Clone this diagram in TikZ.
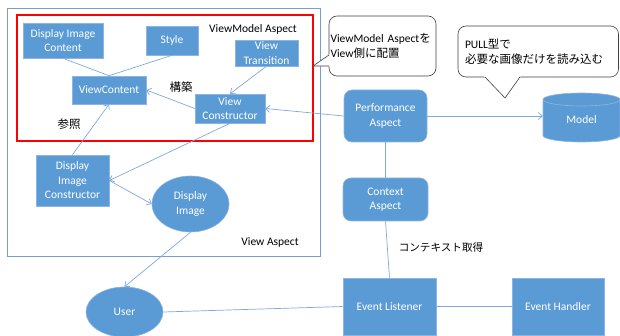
\documentclass[tikz,border=0pt]{standalone}
\usepackage{fontspec}
\setmainfont{Carlito}
\newfontfamily\jp{Noto Sans CJK JP}
\usetikzlibrary{arrows.meta,shapes.geometric}

\definecolor{boxblue}{RGB}{91,155,213}
\definecolor{boxedge}{RGB}{141,180,226}
\definecolor{wireblue}{RGB}{125,170,222}
\definecolor{frameblue}{RGB}{120,158,205}

\begin{document}
\begin{tikzpicture}[x=1pt,y=-1pt,
  font=\fontsize{11.5}{14.5}\selectfont,
  blk/.style={rectangle, fill=boxblue, draw=boxedge, line width=0.6pt,
    text=white, align=center, inner sep=1pt},
  rbox/.style={blk, rounded corners=8pt},
  oval/.style={ellipse, fill=boxblue, draw=boxedge, line width=0.6pt,
    text=white, align=center, inner sep=0pt},
  wire/.style={draw=wireblue, line width=0.7pt},
  arr/.style={wire, -{Straight Barb[length=4pt,width=7pt]}},
  lbl/.style={text=black, inner sep=0pt},
  jplbl/.style={lbl, font=\jp\fontsize{11.5}{14.5}\selectfont},
  note/.style={draw=black!75, fill=white, rounded corners=8pt,
    line width=0.6pt, align=left, text=black}]

\useasboundingbox (0,0) rectangle (620,336);

% aspect frames
\draw[frameblue, line width=0.8pt] (7,8) rectangle (320.5,256.5);
\draw[red, line width=1.2pt] (17,15) rectangle (313,141);

% view side
\node[blk, minimum width=80pt, minimum height=35pt] (dic) at (63,40.5) {Display Image\\Content};
\node[blk, minimum width=52pt, minimum height=29pt] (sty) at (172,40.5) {Style};
\node[blk, minimum width=63pt, minimum height=26pt] (vt) at (266.5,53) {View\\Transition};
\node[blk, minimum width=74pt, minimum height=28pt] (vc) at (109,90) {ViewContent};
\node[blk, minimum width=70pt, minimum height=29pt] (vcons) at (230,108.5) {View\\Constructor};
\node[blk, minimum width=73pt, minimum height=51pt] (dicons) at (72.5,180.5) {Display\\Image\\Constructor};
\node[oval, minimum width=77pt, minimum height=56pt] (di) at (190.5,204) {Display\\Image};
\node[oval, minimum width=77pt, minimum height=50pt] (user) at (124.5,312) {User};

% aspects and events
\node[rbox, minimum width=83pt, minimum height=52pt] (perf) at (385.5,116) {Performance\\Aspect};
\node[rbox, minimum width=85pt, minimum height=43pt] (ctx) at (385.5,199.5) {Context\\Aspect};
\node[blk, minimum width=93pt, minimum height=57pt] (el) at (389.5,306.5) {Event Listener};
\node[blk, minimum width=92pt, minimum height=57pt] (eh) at (558,306.5) {Event Handler};

% model store (cylinder)
\path[fill=boxblue, draw=boxedge, line width=0.6pt]
  (543,99.5) -- (543,135.5)
  arc[start angle=180, end angle=0, x radius=38.5, y radius=6.5]
  -- (620,99.5)
  arc[start angle=0, end angle=-180, x radius=38.5, y radius=6.5] -- cycle;
\draw[boxedge, line width=0.6pt] (543,99.5)
  arc[start angle=180, end angle=0, x radius=38.5, y radius=6.5];
\node[text=white, minimum width=77pt, minimum height=40pt, inner sep=0pt] (model) at (581.5,119.5) {Model};

% labels
\node[lbl] (vmaspect) at (253,29) {ViewModel Aspect};
\node[lbl] (vaspect) at (270,242) {View Aspect};
\node[jplbl] (kouchiku) at (181,87) {構築};
\node[jplbl] (sansho) at (69,124) {参照};
\node[jplbl, font=\jp\fontsize{10.6}{13}\selectfont] (ctxget) at (441,247) {コンテキスト取得};

% callouts
\node[note, minimum height=60pt, text width=104pt, inner xsep=1.5pt] (note1) at (382.5,46)
  {\mbox{ViewModel Aspect{\jp を}}\\View{\jp 側に配置}};
\fill[white] (330,54) -- (313,66) -- (330,66.6) -- cycle;
\draw[black!75, line width=0.6pt] (329,55) -- (313,66) -- (329,66);

\node[note, minimum height=51pt, text width=146.5pt, inner xsep=7pt] (note2) at (538.25,51.5)
  {PULL{\jp 型で}\\{\jp 必要な画像だけを読み込む}};
\fill[white] (484,76) -- (505,98) -- (521,76) -- cycle;
\draw[black!75, line width=0.6pt] (485,77) -- (505,98) -- (520,77);

% connectors
\draw[wire] (dic.south) -- (vc.north);
\draw[wire] (sty.south) -- (vc.north);
\draw[arr] (vt.south) -- (vcons.north);
\draw[arr] (vcons.west) -- (vc.east);
\draw[arr] (dicons.north) -- (vc.south);
\draw[arr] (vcons.south) -- (dicons.east);
\draw[arr] (dicons.east) -- (di.west);
\draw[arr] (di.south) -- (user.north);
\draw[wire] (user.east) -- (el.west);
\draw[wire] (el.east) -- (eh.west);
\draw[wire] (ctx.south) -- (el.north);
\draw[wire] (perf.south) -- (ctx.north);
\draw[arr] (perf.west) -- (vcons.east);
\draw[arr] (perf.east) -- (perf.east -| model.west);
\end{tikzpicture}
\end{document}
